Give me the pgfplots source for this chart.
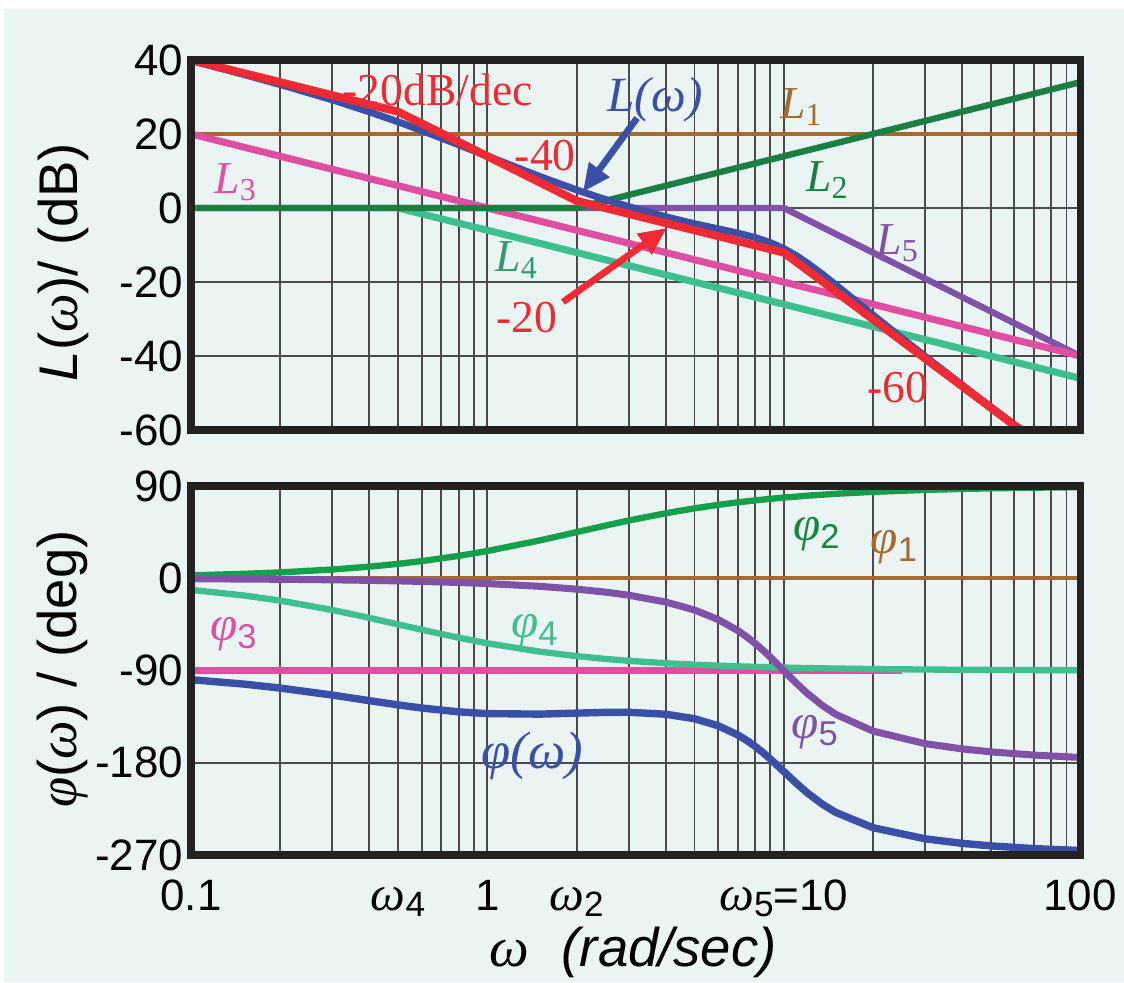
\documentclass[border=0pt]{standalone}
\usepackage{fontspec}
\setmainfont{Liberation Serif}
\setsansfont{Liberation Sans}
\usepackage{pgfplots}
\pgfplotsset{compat=1.18}
\usetikzlibrary{arrows.meta}
\definecolor{bgc}{HTML}{EAF5F3}
\definecolor{gridc}{HTML}{4A4A4A}
\definecolor{framec}{HTML}{222222}
\definecolor{cred}{HTML}{EE2A34}
\definecolor{cblue}{HTML}{3A4FA5}
\definecolor{cbrown}{HTML}{A5692E}
\definecolor{cdgreen}{HTML}{1A7E45}
\definecolor{cgreen}{HTML}{14A04A}
\definecolor{cmag}{HTML}{DE4FA2}
\definecolor{cteal}{HTML}{3FBF8F}
\definecolor{cpurp}{HTML}{7F52A8}
\newcommand{\om}{\textrm{\itshape ω}}
\newcommand{\ph}{\textrm{\itshape φ}}
\tikzset{
  lab/.style={font=\rmfamily\fontsize{13}{13}\selectfont, inner sep=0pt},
  rlab/.style={font=\rmfamily\fontsize{13}{13}\selectfont, inner sep=0pt, text=cred},
}
\begin{document}
\begin{tikzpicture}
\fill[white] (0,0) rectangle (11.24cm,-9.82cm);
\fill[bgc] (0.04cm,-0.09cm) rectangle (11.24cm,-9.82cm);

% ---------------- magnitude ----------------
\begin{axis}[xmode=log, xmin=0.1, xmax=100, width=8.89cm, scale only axis,
  minor xtick={0.2,0.3,0.4,0.5,0.6,0.7,0.8,0.9,2,3,4,5,6,7,8,9,20,30,40,50,60,70,80,90},
  xmajorgrids, xminorgrids, ymajorgrids,
  major grid style={line width=0.55pt, color=gridc},
  minor grid style={line width=0.55pt, color=gridc},
  axis line style={line width=2pt, color=framec},
  major tick length=0pt, minor tick length=0pt,
  tick label style={font=\sffamily\fontsize{12.5}{13}\selectfont},
  yticklabel style={inner xsep=2pt},
  clip=true,
  at={(1.91cm,-0.60cm)}, anchor=north west, height=3.70cm,
  ymin=-60, ymax=40, xtick={0.1,1,10,100}, xticklabels={,,,},
  ytick={-60,-40,-20,0,20,40}, yticklabels={-60,-40,-20,0,20,40}]
\addplot[cbrown, line width=1.0pt] coordinates {(0.1,20) (100,20)};
\addplot[cpurp, line width=1.8pt] coordinates {(0.1,0) (10,0) (100,-40)};
\addplot[cteal, line width=2.0pt] coordinates {(0.5,0) (100,-46.02)};
\addplot[cmag, line width=2.0pt] coordinates {(0.1,20) (100,-40)};
\addplot[cdgreen, line width=1.8pt] coordinates {(0.1,0) (2,0) (100,33.98)};
\addplot[cblue, line width=2.0pt] coordinates {
 (0.1,39.84) (0.15,36.13) (0.2,33.38) (0.3,29.23) (0.4,25.99) (0.5,23.29)
 (0.6,20.96) (0.8,17.10) (1,14.03) (1.5,8.53) (2,4.89) (2.5,2.30) (3,0.35)
 (4,-2.40) (5,-4.26) (6,-5.63) (7,-6.80) (8,-7.97) (9,-9.33) (10,-10.97)
 (11,-12.84) (12,-14.85) (13.5,-17.89) (15,-20.79) (20,-28.90) (25,-35.11)
 (30,-40.09) (40,-47.84) (50,-53.77) (60,-58.58) (63,-59.65)};
\addplot[cred, line width=2.3pt] coordinates {(0.1,40) (0.5,26.02) (2,1.94) (10,-12.04) (63,-60)};
\node[rlab] at (axis cs:0.68,32) {-20dB/dec};
\node[rlab] at (axis cs:1.57,14.3) {-40};
\node[rlab] at (axis cs:1.36,-29.5) {-20};
\node[rlab] at (axis cs:24.3,-48.4) {-60};
\draw[cred, line width=1.9pt, -{Triangle[length=0.28cm,width=0.24cm]}] (axis cs:1.80,-25.4) -- (axis cs:4.04,-5.4);
\node[lab, text=cblue, font=\rmfamily\fontsize{14}{14}\selectfont] at (axis cs:3.68,29.2) {\itshape L(ω)};
\draw[cblue, line width=1.9pt, -{Triangle[length=0.28cm,width=0.24cm]}] (axis cs:3.20,24.3) -- (axis cs:2.10,4.3);
\node[lab, text=cbrown] at (axis cs:11.5,27.3) {\itshape L\textsubscript{\upshape 1}};
\node[lab, text=cdgreen] at (axis cs:14.1,7.6) {\itshape L\textsubscript{\upshape 2}};
\node[lab, text=cmag] at (axis cs:0.142,7) {\itshape L\textsubscript{\upshape 3}};
\node[lab, text=cteal!80!black] at (axis cs:1.26,-14) {\itshape L\textsubscript{\upshape 4}};
\node[lab, text=cpurp] at (axis cs:24.3,-9.5) {\itshape L\textsubscript{\upshape 5}};
\draw[framec, line width=2pt] (rel axis cs:0,0) rectangle (rel axis cs:1,1);
\end{axis}

% ---------------- phase ----------------
\begin{axis}[xmode=log, xmin=0.1, xmax=100, width=8.89cm, scale only axis,
  minor xtick={0.2,0.3,0.4,0.5,0.6,0.7,0.8,0.9,2,3,4,5,6,7,8,9,20,30,40,50,60,70,80,90},
  xmajorgrids, xminorgrids, ymajorgrids,
  major grid style={line width=0.55pt, color=gridc},
  minor grid style={line width=0.55pt, color=gridc},
  axis line style={line width=2pt, color=framec},
  major tick length=0pt, minor tick length=0pt,
  tick label style={font=\sffamily\fontsize{12.5}{13}\selectfont},
  yticklabel style={inner xsep=2pt},
  clip=true,
  at={(1.91cm,-4.86cm)}, anchor=north west, height=3.69cm,
  ymin=-270, ymax=90,
  xtick={0.1,0.5,1,2,10,100},
  xticklabels={0.1,
    {\fontsize{14}{14}\selectfont\om}\raisebox{-0.3ex}{\fontsize{10}{10}\selectfont 4},
    1,
    {\fontsize{14}{14}\selectfont\om}\raisebox{-0.3ex}{\fontsize{10}{10}\selectfont 2},
    {\fontsize{14}{14}\selectfont\om}\raisebox{-0.3ex}{\fontsize{10}{10}\selectfont 5}=10,
    100},
  xticklabel style={anchor=base, yshift=-0.55cm},
  ytick={-270,-180,-90,0,90}, yticklabels={-270,-180,-90,0,90}]
\addplot[cbrown, line width=1.0pt] coordinates {(0.1,0) (100,0)};
\addplot[cmag, line width=1.8pt] coordinates {(0.1,-90) (25,-90)};
\addplot[cteal, line width=1.8pt] coordinates {
 (0.1,-11.31) (0.15,-16.70) (0.2,-21.80) (0.3,-30.96) (0.4,-38.66) (0.5,-45)
 (0.6,-50.19) (0.8,-57.99) (1,-63.43) (1.5,-71.57) (2,-75.96) (2.5,-78.69)
 (3,-80.54) (4,-82.87) (5,-84.29) (6,-85.24) (7,-85.91) (8,-86.42) (9,-86.82)
 (10,-87.14) (12,-87.61) (15,-88.09) (20,-88.57) (30,-89.05) (40,-89.28)
 (50,-89.43) (70,-89.59) (100,-89.71)};
\addplot[cgreen, line width=1.8pt] coordinates {
 (0.1,2.86) (0.15,4.29) (0.2,5.71) (0.3,8.53) (0.4,11.31) (0.5,14.04)
 (0.6,16.70) (0.8,21.80) (1,26.57) (1.5,36.87) (2,45) (2.5,51.34) (3,56.31)
 (4,63.43) (5,68.20) (6,71.57) (7,74.05) (8,75.96) (9,77.47) (10,78.69)
 (12,80.54) (15,82.41) (20,84.29) (30,86.19) (40,87.14) (50,87.71)
 (70,88.36) (100,88.85)};
\addplot[cpurp, line width=2.0pt] coordinates {
 (0.1,-0.52) (0.15,-0.77) (0.2,-1.03) (0.3,-1.55) (0.4,-2.07) (0.5,-2.58)
 (0.6,-3.10) (0.8,-4.14) (1,-5.19) (1.5,-7.86) (2,-10.62) (2.5,-13.50)
 (3,-16.53) (4,-23.20) (5,-30.96) (6,-40.16) (7,-51.01) (7.5,-57.05)
 (8,-63.43) (8.5,-70.06) (9,-76.80) (9.5,-83.49) (10,-90) (11,-101.98)
 (12,-112.17) (13.5,-124.10) (15,-132.80) (20,-149.04) (30,-161.35)
 (40,-166.50) (50,-169.38) (70,-172.52) (100,-174.81)};
\addplot[cblue, line width=2.1pt] coordinates {
 (0.1,-98.97) (0.15,-103.18) (0.2,-107.12) (0.3,-113.98) (0.4,-119.42)
 (0.5,-123.54) (0.6,-126.59) (0.8,-130.33) (1,-132.05) (1.5,-132.56)
 (2,-131.58) (2.5,-130.85) (3,-130.76) (4,-132.64) (5,-137.05) (6,-143.83)
 (7,-152.87) (7.5,-158.17) (8,-163.89) (8.5,-169.93) (9,-176.15)
 (9.5,-182.37) (10,-188.45) (11,-199.68) (12,-209.24) (13.5,-220.41)
 (15,-228.48) (20,-243.32) (30,-254.21) (40,-258.64) (50,-261.10)
 (70,-263.75) (100,-265.67)};
\node[lab, text=cgreen!85!black, font=\rmfamily\fontsize{14}{14}\selectfont] at (axis cs:12.97,43) {\ph\textsubscript{\sffamily\upshape 2}};
\node[lab, text=cbrown, font=\rmfamily\fontsize{14}{14}\selectfont] at (axis cs:23.7,30) {\ph\textsubscript{\sffamily\upshape 1}};
\node[lab, text=cteal, font=\rmfamily\fontsize{14}{14}\selectfont] at (axis cs:1.45,-52) {\ph\textsubscript{\sffamily\upshape 4}};
\node[lab, text=cmag, font=\rmfamily\fontsize{14}{14}\selectfont] at (axis cs:0.14,-55) {\ph\textsubscript{\sffamily\upshape 3}};
\node[lab, text=cpurp, font=\rmfamily\fontsize{14}{14}\selectfont] at (axis cs:12.8,-150) {\ph\textsubscript{\sffamily\upshape 5}};
\node[lab, text=cblue, font=\rmfamily\fontsize{15}{15}\selectfont] at (axis cs:1.42,-173) {\itshape φ(ω)};
\draw[framec, line width=2pt] (rel axis cs:0,0) rectangle (rel axis cs:1,1);
\end{axis}

% axis labels
\node[rotate=90, font=\sffamily\fontsize{15.5}{16}\selectfont, inner sep=0pt] at (0.63cm,-2.62cm)
  {{\itshape L}(\om)/ (dB)};
\node[rotate=90, font=\sffamily\fontsize{15.5}{16}\selectfont, inner sep=0pt] at (0.63cm,-6.69cm)
  {\ph(\om) / (deg)};
\node[anchor=base, font=\sffamily\fontsize{15.5}{16}\selectfont, inner sep=0pt] at (6.33cm,-9.66cm)
  {{\fontsize{16}{16}\selectfont\om}\hspace{0.6em}{\itshape (rad/sec)}};

\pgfresetboundingbox
\useasboundingbox (0,0) rectangle (11.24cm,-9.82cm);
\end{tikzpicture}
\end{document}
